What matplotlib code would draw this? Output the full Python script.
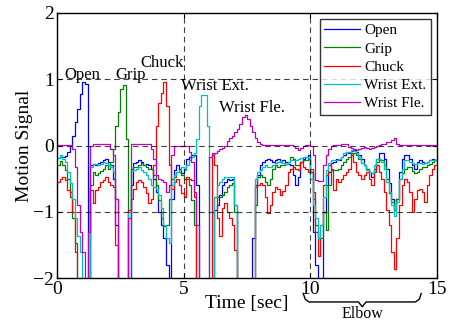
import numpy as np
import matplotlib
matplotlib.use("Agg")
import matplotlib.pyplot as plt
import matplotlib.transforms as mtransforms

plt.rcParams['font.family'] = ['Liberation Serif', 'DejaVu Serif']

# time axis, one sample every 0.1 s
t = np.round(np.arange(151) * 0.1, 1)

# values (below -2 means clipped at the bottom)
open_sig = [
    -0.19, -0.18, -0.17, -0.16, -0.10, 0.00, 0.15, 0.35, 0.55, 0.78,
    0.96, 0.93, -2.5, -0.30, -0.28, -0.30, -0.27, -0.25, -0.22, -0.20,
    -0.25, -0.30, -0.50, -1.20, -2.5, -2.5, -2.5, -2.5, -2.5, -0.60,
    -0.27, -0.25, -0.22, -0.25, -0.30, -0.28, -0.30, -0.35, -0.50, -0.70,
    -1.00, -1.20, -1.40, -1.80, -2.5, -0.80, -0.37, -0.30, -0.35, -0.42,
    -0.35, -0.20, -0.17, -0.14, -0.14, -0.60, -2.5, -2.5, -2.5, -2.5,
    -2.5, -2.5, -0.97, -0.90, -0.75, -0.60, -0.55, -0.50, -0.52, -0.50,
    -0.90, -2.5, -2.5, -2.5, -2.5, -2.5, -2.5, -1.40, -0.60, -0.45,
    -0.30, -0.25, -0.22, -0.20, -0.22, -0.25, -0.22, -0.20, -0.25, -0.22,
    -0.25, -0.28, -0.30, -0.45, -0.60, -0.47, -0.25, -0.20, -0.17, -0.15,
    -0.40, -1.30, -1.80, -2.5, -2.5, -1.00, -0.60, -0.40, -0.27, -0.25,
    -0.20, -0.22, -0.18, -0.15, -0.10, -0.12, -0.08, -0.07, -0.10, -0.15,
    -0.20, -0.30, -0.35, -0.40, -0.47, -0.35, -0.20, -0.12, -0.12, -0.20,
    -0.35, -0.57, -0.80, -0.97, -0.80, -0.40, -0.20, -0.14, -0.15, -0.20,
    -0.30, -0.35, -0.25, -0.22, -0.25, -0.27, -0.25, -0.22, -0.20, -0.22,
    -0.22]
grip_sig = [
    -0.30, -0.24, -0.30, -0.37, -0.50, -0.70, -1.10, -1.47, -2.5, -2.5,
    -2.5, -2.5, -2.5, -0.60, -0.40, -0.45, -0.42, -0.38, -0.35, -0.30,
    -0.35, -0.25, -0.05, 0.30, 0.50, 0.85, 0.91, 0.10, -2.5, -0.35,
    -0.33, -0.32, -0.30, -0.27, -0.30, -0.32, -0.35, -0.35, -0.45, -0.60,
    -0.82, -1.10, -1.22, -1.20, -0.80, -0.50, -0.47, -0.40, -0.40, -0.45,
    -0.50, -0.50, -0.60, -0.82, -1.20, -2.5, -2.5, -2.5, -2.5, -2.5,
    -2.5, -2.5, -0.77, -0.77, -0.78, -0.75, -0.70, -0.62, -0.60, -0.57,
    -1.00, -2.5, -2.5, -2.5, -2.5, -2.5, -2.5, -2.5, -0.90, -0.47,
    -0.45, -0.47, -0.55, -0.60, -0.50, -0.35, -0.30, -0.32, -0.30, -0.30,
    -0.28, -0.25, -0.18, -0.20, -0.30, -0.30, -0.25, -0.22, -0.22, -0.20,
    -0.40, -0.80, -1.20, -1.40, -1.40, -1.00, -1.27, -0.60, -0.37, -0.37,
    -0.37, -0.35, -0.30, -0.25, -0.20, -0.17, -0.15, -0.12, -0.15, -0.20,
    -0.27, -0.30, -0.35, -0.40, -0.42, -0.35, -0.25, -0.22, -0.22, -0.30,
    -0.50, -0.72, -0.85, -0.97, -0.80, -0.50, -0.42, -0.35, -0.33, -0.32,
    -0.38, -0.42, -0.40, -0.35, -0.33, -0.32, -0.30, -0.28, -0.25, -0.22,
    -0.20]
chuck_sig = [
    -0.55, -0.50, -0.47, -0.52, -0.67, -0.77, -1.00, -1.60, -2.5, -2.5,
    -2.5, -2.5, -2.5, -0.67, -0.87, -0.67, -0.62, -0.55, -0.52, -0.47,
    -0.55, -0.60, -0.62, -1.50, -2.5, -2.5, -2.5, -2.5, -0.97, -0.80,
    -0.65, -0.55, -0.52, -0.55, -0.62, -0.72, -0.87, -0.80, -0.30, 0.30,
    0.64, 0.79, 0.96, 0.60, -0.30, -0.65, -0.55, -0.50, -0.60, -0.72,
    -0.77, -0.47, -0.50, -0.52, -0.77, -2.5, -2.5, -2.5, -2.5, -2.5,
    -2.5, -0.12, -0.30, -1.10, -1.37, -0.95, -0.87, -1.00, -1.10, -1.20,
    -1.57, -2.5, -2.5, -2.5, -2.5, -2.5, -2.5, -2.5, -0.62, -0.60,
    -0.57, -0.60, -0.77, -1.02, -0.90, -0.70, -0.62, -0.65, -0.75, -0.68,
    -0.60, -0.40, -0.35, -0.32, -0.35, -0.37, -0.25, -0.32, -0.35, -0.40,
    -0.35, -0.70, -1.30, -1.67, -1.20, -0.60, -0.45, -0.30, -0.35, -0.67,
    -0.50, -0.55, -0.50, -0.45, -0.40, -0.35, -0.12, -0.25, -0.40, -0.45,
    -0.50, -0.45, -0.40, -0.50, -0.60, -0.40, -0.30, -0.40, -0.50, -0.70,
    -0.97, -1.20, -1.60, -1.87, -1.40, -0.90, -0.60, -0.50, -0.55, -0.70,
    -1.00, -0.80, -0.67, -0.65, -0.70, -0.85, -0.60, -0.45, -0.35, -0.30,
    -0.30]
wext_sig = [
    -0.19, -0.15, -0.20, -0.25, -0.40, -0.57, -0.80, -1.10, -1.37, -1.60,
    -2.5, -2.5, -2.5, -0.32, -0.28, -0.28, -0.30, -0.28, -0.25, -0.27,
    -0.30, -0.32, -0.40, -0.80, -2.5, -2.5, -2.5, -2.5, -1.00, -0.38,
    -0.37, -0.35, -0.33, -0.37, -0.40, -0.45, -0.50, -0.60, -0.62, -0.65,
    -0.75, -0.95, -1.20, -1.40, -1.47, -0.60, -0.45, -0.40, -0.37, -0.33,
    -0.37, -0.30, -0.22, -0.17, -0.12, 0.10, 0.60, 0.76, 0.76, 0.30,
    -2.5, -2.5, -0.77, -0.60, -0.55, -0.50, -0.48, -0.47, -0.47, -0.47,
    -0.90, -2.5, -2.5, -2.5, -2.5, -2.5, -2.5, -2.5, -0.50, -0.40,
    -0.37, -0.33, -0.30, -0.32, -0.33, -0.30, -0.27, -0.25, -0.24, -0.27,
    -0.28, -0.25, -0.22, -0.22, -0.22, -0.20, -0.19, -0.18, -0.17, -0.19,
    -0.50, -0.90, -1.10, -1.40, -1.20, -0.78, -0.37, -0.27, -0.22, -0.22,
    -0.22, -0.20, -0.17, -0.12, -0.10, -0.10, -0.07, -0.09, -0.12, -0.18,
    -0.27, -0.30, -0.37, -0.40, -0.42, -0.30, -0.20, -0.20, -0.25, -0.35,
    -0.55, -0.70, -0.90, -1.07, -0.85, -0.50, -0.35, -0.22, -0.22, -0.25,
    -0.27, -0.28, -0.27, -0.27, -0.28, -0.27, -0.25, -0.22, -0.22, -0.22,
    -0.22]
wfle_sig = [
    0.01, 0.01, 0.01, 0.01, 0.01, 0.01, -0.05, -0.32, -0.90, -1.30,
    -1.60, -2.5, -1.30, 0.00, 0.02, 0.02, 0.02, 0.02, 0.02, 0.02,
    0.02, -0.05, -0.15, -0.80, -2.5, -2.5, -2.5, -2.5, -1.10, 0.02,
    0.03, 0.03, 0.03, 0.03, 0.03, 0.03, 0.03, -0.05, -0.20, -0.45,
    -0.50, -0.52, -0.55, -0.70, -0.60, -0.15, 0.00, 0.00, 0.00, 0.00,
    0.00, 0.00, -0.10, -0.25, -0.70, -1.20, -2.5, -2.5, -2.5, -2.5,
    -0.17, -0.15, -0.12, -0.08, -0.06, -0.04, 0.00, 0.07, 0.12, 0.15,
    0.20, 0.25, 0.33, 0.43, 0.46, 0.40, 0.30, 0.20, 0.12, 0.05,
    0.02, 0.01, 0.01, 0.01, 0.01, 0.01, 0.01, 0.01, 0.01, 0.01,
    0.01, 0.01, 0.01, 0.00, -0.03, -0.07, -0.04, 0.00, 0.01, 0.01,
    0.00, -0.15, -0.52, -0.54, -0.54, -0.30, -0.15, -0.05, 0.00, 0.01,
    0.01, 0.01, 0.02, 0.03, 0.02, -0.02, -0.04, -0.06, -0.07, -0.05,
    -0.03, -0.02, -0.04, -0.05, -0.04, -0.02, 0.00, 0.01, 0.02, 0.03,
    0.05, 0.06, 0.08, 0.11, 0.03, 0.01, 0.01, 0.01, 0.01, 0.01,
    0.01, 0.01, 0.01, 0.01, 0.01, 0.01, 0.01, 0.01, 0.01, 0.01,
    0.01]

names = ['Open', 'Grip', 'Chuck', 'Wrist Ext.', 'Wrist Fle.']
series = [open_sig, grip_sig, chuck_sig, wext_sig, wfle_sig]
colors = ['#0000ff', '#008000', '#ff0000', '#00bfbf', '#bf00bf']

# peak labels: (text, x, y)
peak_labels = [('Open', 1.0, 1.0), ('Grip', 2.9, 1.0), ('Chuck', 4.15, 1.18),
               ('Wrist Ext.', 6.25, 0.83), ('Wrist Fle.', 7.7, 0.5)]

fig = plt.figure(figsize=(4.5, 3.23), dpi=100)
ax = fig.add_axes([0.127, 0.139, 0.844, 0.821])

for y, c, n in zip(series, colors, names):
    ax.plot(t, y, color=c, lw=0.9, label=n, drawstyle='steps-post')

dash = (0, (5, 3.5))
for yv in [1, 0, -1]:
    ax.axhline(yv, color='k', lw=0.8, ls=dash, alpha=0.75, zorder=3)
for xv in [5, 10]:
    ax.axvline(xv, color='k', lw=0.8, ls=dash, alpha=0.75, zorder=3)

for txt, x, y in peak_labels:
    ax.text(x, y, txt, ha='center', va='baseline', fontsize=12)

ax.set_xlim(0, 15)
ax.set_ylim(-2, 2)
ax.set_xticks([0, 5, 10, 15])
ax.set_yticks([-2, -1, 0, 1, 2])
ax.tick_params(direction='in', top=True, right=True, labelsize=14, pad=2)
for s in ax.spines.values():
    s.set_linewidth(1.0)
ax.set_xlabel('Time [sec]', fontsize=14, labelpad=-2)
ax.set_ylabel('Motion Signal', fontsize=14, labelpad=0)

leg = ax.legend(loc='upper right', fontsize=11, frameon=True, fancybox=False,
                edgecolor='k', handlelength=2.3, labelspacing=0.3,
                borderaxespad=0.4, borderpad=0.3, handletextpad=0.3)
leg.get_frame().set_linewidth(1.0)

# brace under the x axis marking the elbow motion
tr = mtransforms.blended_transform_factory(ax.transData, ax.transAxes)
bx = [9.72, 9.8, 9.95, 11.9, 12.05, 12.2, 14.15, 14.3, 14.38]
by = [-0.058, -0.08, -0.09, -0.09, -0.108, -0.09, -0.09, -0.08, -0.058]
ax.plot(bx, by, color='k', lw=1.0, transform=tr, clip_on=False)
ax.text(12.05, -0.104, 'Elbow', transform=tr, ha='center', va='top', fontsize=11.5)

fig.savefig('out.png', dpi=100)
